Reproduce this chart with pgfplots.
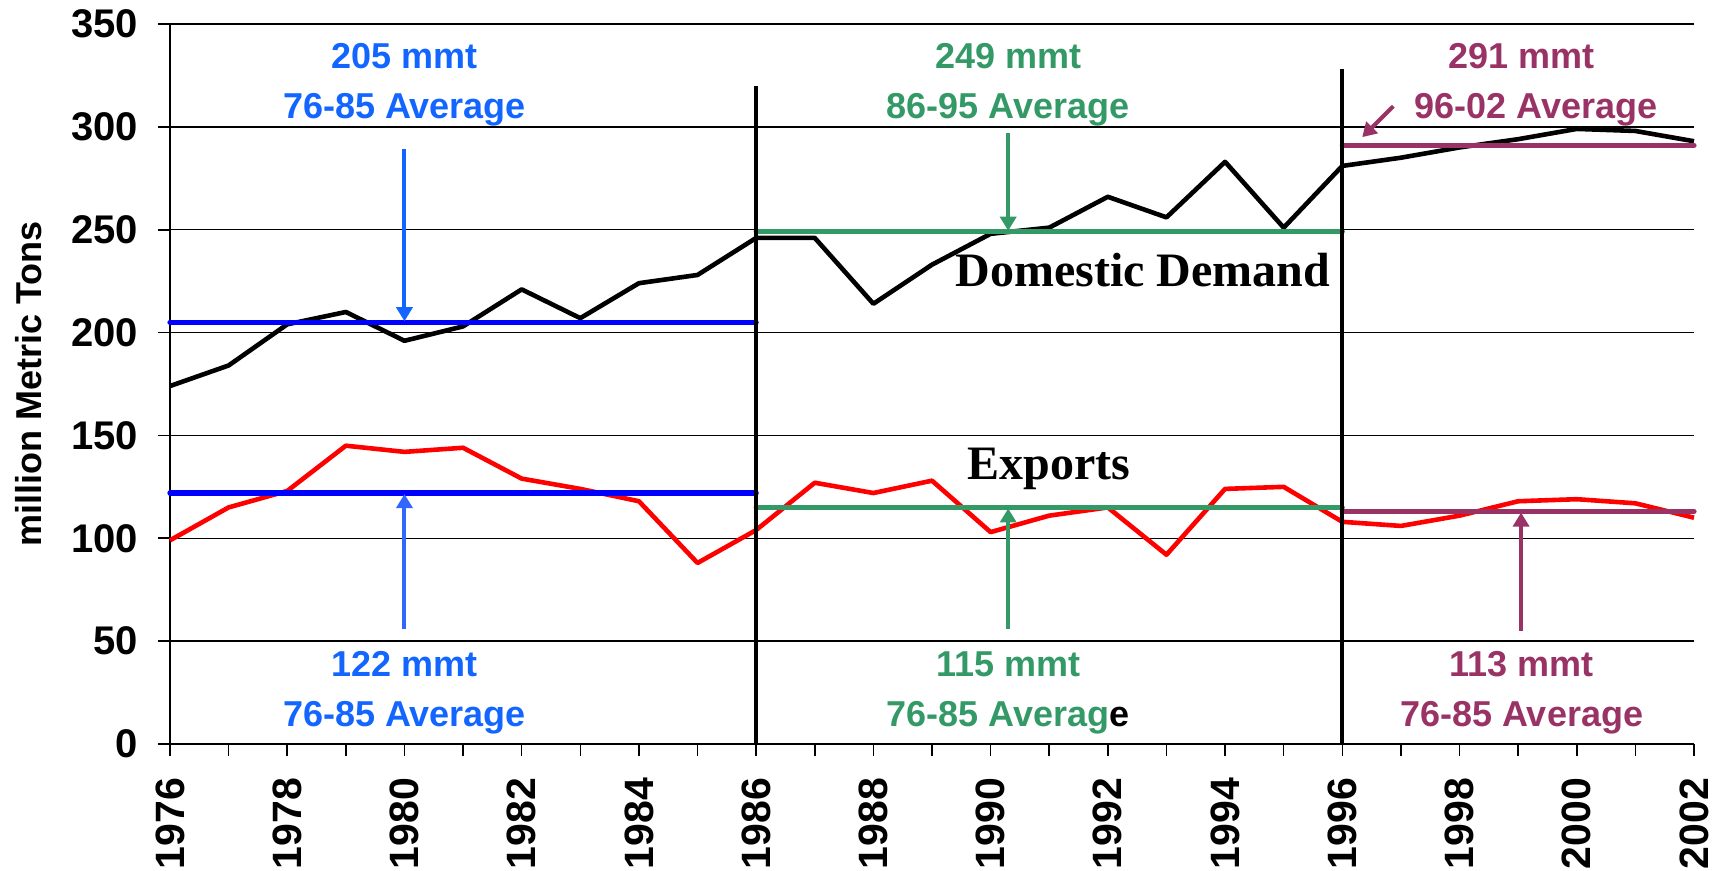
\documentclass[border=0pt]{standalone}
\usepackage{pgfplots}
\pgfplotsset{compat=1.18}
\usetikzlibrary{arrows.meta}
\usepackage{fontspec}
\setmainfont{Liberation Sans}
\newfontfamily\timesfont{Liberation Serif}
\definecolor{avgblue}{RGB}{0,0,255}
\definecolor{txtblue}{RGB}{18,102,255}
\definecolor{arrblue}{RGB}{51,102,255}
\definecolor{mygreen}{RGB}{51,153,102}
\definecolor{mypurple}{RGB}{153,51,102}
\begin{document}
\begin{tikzpicture}
\begin{axis}[
  scale only axis, width=762pt, height=360pt,
  xmin=1976, xmax=2002, ymin=0, ymax=350,
  clip=false,
  axis x line*=bottom, axis y line*=left,
  x axis line style={line width=1.4pt},
  y axis line style={line width=0.7pt},
  ymajorgrids, grid style={black, line width=0.7pt},
  ytick={0,50,...,350},
  xtick={1976,1978,...,2002},
  minor xtick={1977,1979,...,2001},
  tick align=outside,
  major tick length=6pt, minor tick length=6pt,
  every tick/.style={black, line width=0.8pt},
  /pgf/number format/assume math mode=true,
  /pgf/number format/1000 sep={},
  yticklabel style={font=\bfseries\fontsize{20}{24}\selectfont},
  xticklabel style={font=\bfseries\fontsize{20.5}{24}\selectfont, rotate=90, anchor=east},
  xticklabel shift=7.5pt,
  yticklabel shift=6.5pt,
  ylabel={million Metric Tons},
  ylabel style={font=\bfseries\fontsize{18}{22}\selectfont, at={(axis description cs:-0.0925,0.5)}, anchor=center, rotate=0},
]
% Domestic demand
\addplot[black, line width=2.3pt, line join=round] coordinates {
(1976,174)(1977,184)(1978,204)(1979,210)(1980,196)(1981,203)(1982,221)(1983,207)(1984,224)(1985,228)
(1986,246)(1987,246)(1988,214)(1989,233)(1990,248)(1991,251)(1992,266)(1993,256)(1994,283)(1995,251)
(1996,281)(1997,285)(1998,290)(1999,294)(2000,299)(2001,298)(2002,293)};
% Exports
\addplot[red, line width=2.3pt, line join=round] coordinates {
(1976,99)(1977,115)(1978,123)(1979,145)(1980,142)(1981,144)(1982,129)(1983,124)(1984,118)(1985,88)
(1986,104)(1987,127)(1988,122)(1989,128)(1990,103)(1991,111)(1992,115)(1993,92)(1994,124)(1995,125)
(1996,108)(1997,106)(1998,111)(1999,118)(2000,119)(2001,117)(2002,110)};
% Averages
\addplot[avgblue, line width=2.6pt, line cap=round] coordinates {(1976,205)(1986,205)};
\addplot[avgblue, line width=2.6pt, line cap=round] coordinates {(1976,122)(1986,122)};
\addplot[mygreen, line width=2.6pt, line cap=round] coordinates {(1986,249)(1996,249)};
\addplot[mygreen, line width=2.6pt, line cap=round] coordinates {(1986,115)(1996,115)};
\addplot[mypurple, line width=2.6pt, line cap=round] coordinates {(1996,291)(2002,291)};
\addplot[mypurple, line width=2.6pt, line cap=round] coordinates {(1996,113)(2002,113)};
% Period separators
\addplot[black, line width=1.9pt] coordinates {(1986,0)(1986,320)};
\addplot[black, line width=1.9pt] coordinates {(1996,0)(1996,328)};
% Arrows
\tikzset{arr/.style={line width=2pt, -{Triangle[length=7pt,width=8pt]}}}
\draw[txtblue, arr] (axis cs:1980,289) -- (axis cs:1980,205.5);
\draw[arrblue, arr] (axis cs:1980,56) -- (axis cs:1980,121.5);
\draw[mygreen, arr] (axis cs:1990.3,297) -- (axis cs:1990.3,249.5);
\draw[mygreen, arr] (axis cs:1990.3,56) -- (axis cs:1990.3,114.5);
\draw[mypurple, arr] (axis cs:1996.87,310) -- (axis cs:1996.34,295);
\draw[mypurple, arr] (axis cs:1999.05,55) -- (axis cs:1999.05,112.5);
% Annotations
\tikzset{ann/.style={font=\bfseries\fontsize{18}{22}\selectfont, anchor=base, inner sep=0pt}}
\node[ann, txtblue] at (axis cs:1980,328.2) {205 mmt};
\node[ann, txtblue] at (axis cs:1980,304.2) {76-85 Average};
\node[ann, mygreen] at (axis cs:1990.3,328.2) {249 mmt};
\node[ann, mygreen] at (axis cs:1990.3,304.2) {86-95 Average};
\node[ann, mypurple] at (axis cs:1999.06,328.2) {291 mmt};
\node[ann, mypurple] at (axis cs:1999.3,304.2) {96-02 Average};
\node[ann, txtblue] at (axis cs:1980,32.6) {122 mmt};
\node[ann, txtblue] at (axis cs:1980,8.7) {76-85 Average};
\node[ann, mygreen] at (axis cs:1990.3,32.6) {115 mmt};
\node[ann] at (axis cs:1990.3,8.7) {\textcolor{mygreen}{76-85 Averag}e};
\node[ann, mypurple] at (axis cs:1999.06,32.6) {113 mmt};
\node[ann, mypurple] at (axis cs:1999.06,8.7) {76-85 Average};
\node[font=\timesfont\bfseries\fontsize{24}{28}\selectfont, anchor=base, inner sep=0pt] at (axis cs:1992.6,222.2) {Domestic Demand};
\node[font=\timesfont\bfseries\fontsize{24}{28}\selectfont, anchor=base, inner sep=0pt] at (axis cs:1991.0,128.5) {Exports};
\end{axis}
\pgfresetboundingbox
\path ([shift={(-85pt,-63.5pt)}]current axis.south west) rectangle ([shift={(12.5pt,12pt)}]current axis.north east);
\end{tikzpicture}
\end{document}
